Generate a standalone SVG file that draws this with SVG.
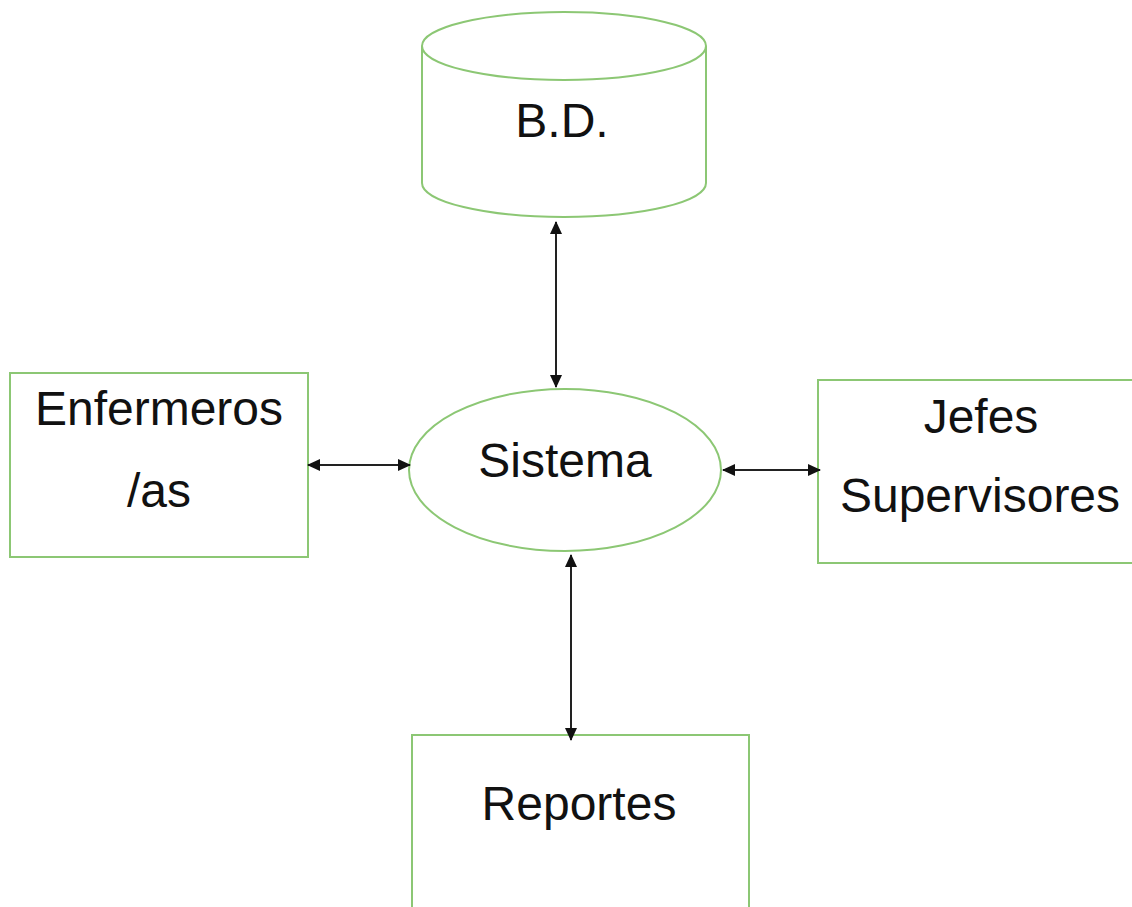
<svg xmlns="http://www.w3.org/2000/svg" width="1132" height="907" viewBox="0 0 1132 907">
<defs>
<style>
.shape{fill:#fff;stroke:#8cc774;stroke-width:2}
.lbl{font-family:"Liberation Sans",Arial,sans-serif;font-size:48px;fill:#111;text-anchor:middle}
.conn{stroke:#222;stroke-width:2;fill:none;marker-start:url(#ah);marker-end:url(#ah)}
</style>
<marker id="ah" viewBox="0 0 13 12" refX="12" refY="6" markerWidth="13" markerHeight="12" markerUnits="userSpaceOnUse" orient="auto-start-reverse">
<path d="M0,0 L13,6 L0,12 Z" fill="#111"/>
</marker>
</defs>
<rect width="1132" height="907" fill="#fff"/>
<g id="bd">
<path class="shape" d="M422,46 L422,183 A142,34 0 0 0 706,183 L706,46"/>
<ellipse class="shape" cx="564" cy="46" rx="142" ry="34"/>
<text class="lbl" x="562" y="137">B.D.</text>
</g>
<g id="enfermeros">
<rect class="shape" x="10" y="373" width="298" height="184"/>
<text class="lbl" x="159" y="425">Enfermeros</text>
<text class="lbl" x="159" y="507">/as</text>
</g>
<g id="sistema">
<ellipse class="shape" cx="565" cy="470" rx="156" ry="81"/>
<text class="lbl" x="565" y="477">Sistema</text>
</g>
<g id="jefes">
<rect class="shape" x="818" y="380" width="330" height="183"/>
<text class="lbl" x="981" y="433">Jefes</text>
<text class="lbl" x="980" y="512">Supervisores</text>
</g>
<g id="reportes">
<rect class="shape" x="412" y="735" width="337" height="190"/>
<text class="lbl" x="579" y="820">Reportes</text>
</g>
<g id="connectors">
<line class="conn" x1="556" y1="222" x2="556" y2="387"/>
<line class="conn" x1="308" y1="465" x2="410" y2="465"/>
<line class="conn" x1="723" y1="470" x2="820" y2="470"/>
<line class="conn" x1="571" y1="555" x2="571" y2="740"/>
</g>
</svg>
